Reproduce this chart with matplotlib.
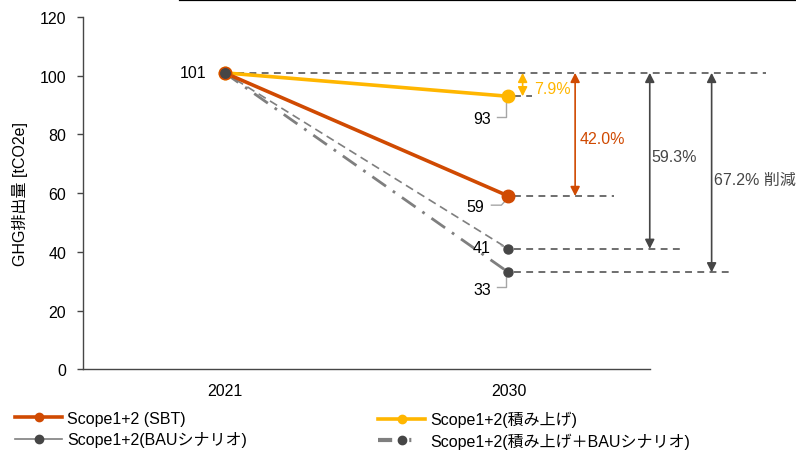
import matplotlib
matplotlib.use("Agg")
import matplotlib.pyplot as plt
from matplotlib.lines import Line2D

plt.rcParams['font.family'] = ['Liberation Sans', 'Noto Sans CJK JP', 'DejaVu Sans']

# --- data ---
years = ["2021", "2030"]
sbt = [101, 59]
stack = [101, 93]
bau = [101, 41]
stack_bau = [101, 33]
pct_labels = ["7.9%", "42.0%", "59.3%", "67.2% 削減"]
series_names = ["Scope1+2 (SBT)", "Scope1+2(積み上げ)",
                "Scope1+2(BAUシナリオ)", "Scope1+2(積み上げ＋BAUシナリオ)"]
yticks = [0, 20, 40, 60, 80, 100, 120]

ORANGE = "#D04A02"
YELLOW = "#FFB600"
DARK = "#464646"
GRAY = "#7F7F7F"
LEADER = "#A6A6A6"

W, H = 796, 452
fig = plt.figure(figsize=(W / 100, H / 100), dpi=100)
ax = fig.add_axes([0.104, 0.181, 0.713, 0.779])
x = [0, 1]
fs = 11.5

# series lines
ax.plot(x, stack_bau, color=GRAY, lw=2.0, ls=(0, (6, 3, 1, 3)), zorder=3)
ax.plot(x, bau, color=GRAY, lw=1.2, ls=(0, (5, 3)), zorder=3)
ax.plot(x, stack, color=YELLOW, lw=2.6, zorder=4)
ax.plot(x, sbt, color=ORANGE, lw=2.6, zorder=4)

# markers
ax.plot(x, stack, 'o', color=YELLOW, ms=9, zorder=5)
ax.plot(x, sbt, 'o', color=ORANGE, ms=9, zorder=6)
ax.plot(x, bau, 'o', color=DARK, ms=6.5, zorder=7)
ax.plot(x, stack_bau, 'o', color=DARK, ms=6.5, zorder=7)

# horizontal reference lines
ref_dash = (0, (4.5, 3.5))
ref_kw = dict(color=DARK, lw=1.1, ls=ref_dash, clip_on=False, zorder=2)
ax.plot([0, 1.909], [sbt[0], sbt[0]], **ref_kw)
ax.plot([1.02, 1.084], [stack[1], stack[1]], **ref_kw)
ax.plot([1.02, 1.372], [sbt[1], sbt[1]], **ref_kw)
ax.plot([1.02, 1.604], [bau[1], bau[1]], **ref_kw)
ax.plot([1.02, 1.793], [stack_bau[1], stack_bau[1]], **ref_kw)

# reduction arrows
arrow_specs = [
    (1.05, stack[1], YELLOW, pct_labels[0], 1.092, 95.6),
    (1.235, sbt[1], ORANGE, pct_labels[1], 1.252, 78.5),
    (1.498, bau[1], DARK, pct_labels[2], 1.505, 72.4),
    (1.716, stack_bau[1], DARK, pct_labels[3], 1.724, 64.5),
]
for ax_x, y_end, col, lab, tx, ty in arrow_specs:
    ax.annotate("", xy=(ax_x, y_end), xytext=(ax_x, sbt[0]),
                arrowprops=dict(arrowstyle="<|-|>,head_length=0.55,head_width=0.28",
                                color=col, lw=1.2, shrinkA=0, shrinkB=0),
                annotation_clip=False, zorder=3)
    ax.text(tx, ty, lab, color=col, fontsize=fs, va="center", ha="left",
            clip_on=False)

# value labels
ax.text(-0.066, sbt[0], str(sbt[0]), fontsize=fs, ha="right", va="center")
ax.text(0.94, 85.3, str(stack[1]), fontsize=fs, ha="right", va="center")
ax.text(0.915, 55.6, str(sbt[1]), fontsize=fs, ha="right", va="center")
ax.text(0.937, 41.6, str(bau[1]), fontsize=fs, ha="right", va="center")
ax.text(0.94, 27.3, str(stack_bau[1]), fontsize=fs, ha="right", va="center")

# leader lines
lk = dict(color=LEADER, lw=1.0, zorder=4)
ax.plot([0.96, 0.99, 0.99], [85.8, 85.8, stack[1] - 1.5], **lk)
ax.plot([0.94, 0.975, 0.995], [55.9, 55.9, sbt[1] - 1.0], **lk)
ax.plot([0.975, 0.99], [42.1, bau[1] + 0.5], **lk)
ax.plot([0.96, 0.99, 0.99], [28.0, 28.0, stack_bau[1] - 1.5], **lk)

# axes styling
ax.set_xlim(-0.5, 1.5)
ax.set_ylim(0, 120)
ax.set_yticks(yticks)
ax.set_xticks(x)
ax.set_xticklabels(years)
ax.tick_params(axis='y', direction='out', length=4, width=1, color=DARK,
               labelsize=fs, pad=8)
ax.tick_params(axis='x', length=0, labelsize=fs, pad=10)
for s in ["top", "right"]:
    ax.spines[s].set_visible(False)
for s in ["left", "bottom"]:
    ax.spines[s].set_color(DARK)
    ax.spines[s].set_linewidth(1.0)
ax.set_ylabel("GHG排出量 [tCO2e]", fontsize=fs, labelpad=8)

# top rule
fig.add_artist(Line2D([180 / W, 1.0], [0.998, 0.998], color="black", lw=1.6,
                      transform=fig.transFigure))

# legend: two columns placed independently
h_sbt = Line2D([], [], color=ORANGE, lw=2.6, marker='o', ms=6)
h_bau = Line2D([], [], color=GRAY, lw=1.2, marker='o', ms=6,
               markerfacecolor=DARK, markeredgecolor=DARK)
h_stack = Line2D([], [], color=YELLOW, lw=2.6, marker='o', ms=6)
h_stack_bau = Line2D([], [], color=GRAY, lw=3.0, ls=(0, (3.4, 4.1, 0.5, 3.4)),
                     marker='o', ms=6, markerfacecolor=DARK, markeredgecolor=DARK)
leg_kw = dict(loc="upper left", frameon=False, fontsize=fs, handlelength=2.95,
              handletextpad=0.3, labelspacing=0.32, borderaxespad=0, borderpad=0)
fig.legend([h_sbt, h_bau], [series_names[0], series_names[2]],
           bbox_to_anchor=(15 / W, (H - 412) / H), **leg_kw)
fig.legend([h_stack, h_stack_bau], [series_names[1], series_names[3]],
           bbox_to_anchor=(378 / W, (H - 412) / H), **leg_kw)

fig.savefig("out.png", dpi=100)
